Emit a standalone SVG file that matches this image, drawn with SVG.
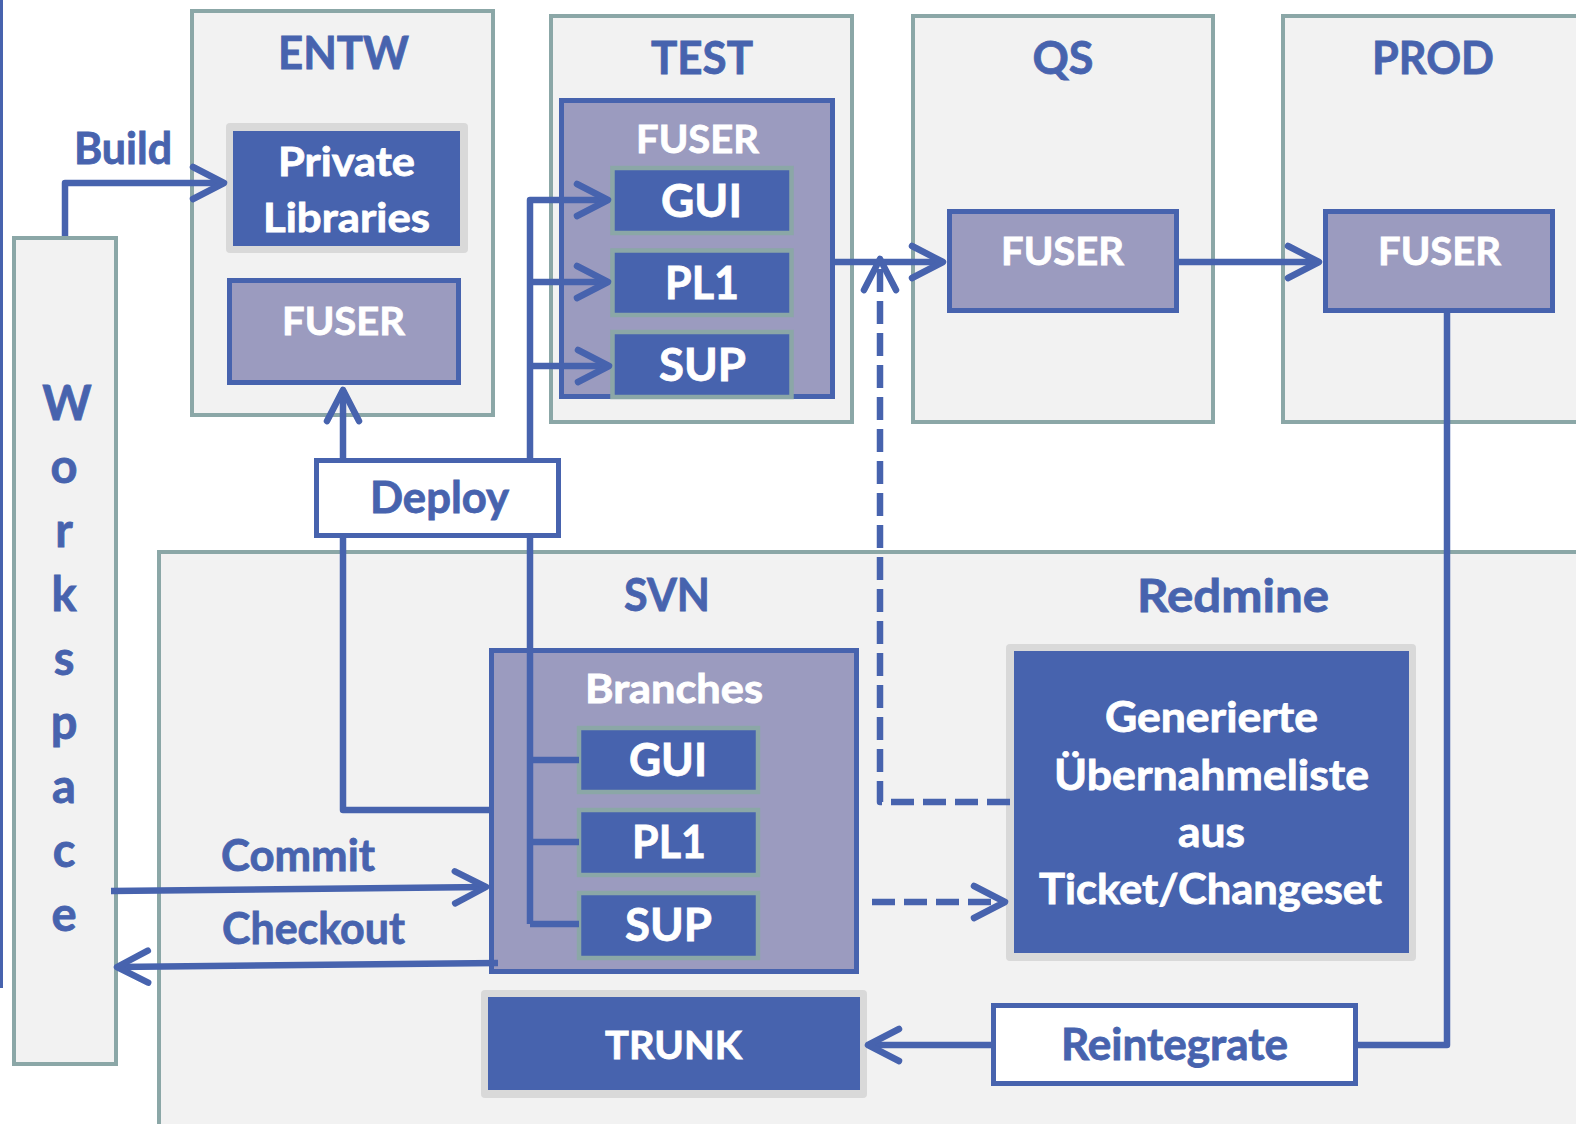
<svg xmlns="http://www.w3.org/2000/svg" width="1576" height="1124" viewBox="0 0 1576 1124">
<style>
  text { font-family: Lato, "Open Sans", "Liberation Sans", sans-serif; font-weight: 700; text-anchor: middle; stroke-width: 0.8; }
  .panel { fill: #f2f2f2; stroke: #8ba7a7; stroke-width: 4; }
  .fuser { fill: #9b9bbf; stroke: #4763ae; stroke-width: 5; }
  .label { fill: #ffffff; stroke: #4763ae; stroke-width: 5; }
  .frame { fill: #d9d9d9; }
  .solid { fill: #4763ae; }
  .mod { fill: #4763ae; stroke: #8ba7a7; stroke-width: 4.5; }
  .title { fill: #4763ae; stroke: #4763ae; font-size: 46px; }
  .btxt { fill: #4763ae; stroke: #4763ae; font-size: 43px; }
  .wtxt { fill: #ffffff; stroke: #ffffff; }
  .conn { fill: none; stroke: #4763ae; stroke-width: 6.5; stroke-linejoin: round; }
  .dash { stroke-dasharray: 23 9; }
</style>
<defs>
  <marker id="arr" markerUnits="userSpaceOnUse" viewBox="-40 -22 46 44" markerWidth="46" markerHeight="44" refX="0" refY="0" orient="auto" overflow="visible">
    <path d="M-31,-16 L0,0 L-31,16" fill="none" stroke="#4763ae" stroke-width="6.5" stroke-linecap="round" stroke-linejoin="round" stroke-dasharray="none"/>
  </marker>
</defs>

<rect x="0" y="0" width="3" height="988" fill="#4763ae"/>

<g id="workspace">
  <rect class="panel" x="14" y="238" width="102" height="826"/>
  <g class="title" style="font-size:47px">
    <text x="67" y="420">W</text>
    <text x="64" y="483">o</text>
    <text x="64" y="547">r</text>
    <text x="64" y="611">k</text>
    <text x="64" y="675">s</text>
    <text x="64" y="739">p</text>
    <text x="64" y="803">a</text>
    <text x="64" y="867">c</text>
    <text x="64" y="931">e</text>
  </g>
</g>

<g id="entw">
  <rect class="panel" x="192" y="11" width="301" height="404"/>
  <text class="title" x="343.5" y="69" textLength="131" lengthAdjust="spacingAndGlyphs">ENTW</text>
</g>
<g id="test">
  <rect class="panel" x="551" y="16" width="301" height="406"/>
  <text class="title" x="702" y="74" textLength="102" lengthAdjust="spacingAndGlyphs">TEST</text>
</g>
<g id="qs">
  <rect class="panel" x="913" y="16" width="300" height="406"/>
  <text class="title" x="1063" y="74" textLength="61" lengthAdjust="spacingAndGlyphs">QS</text>
</g>
<g id="prod">
  <rect class="panel" x="1283" y="16" width="400" height="406"/>
  <text class="title" x="1433" y="74" textLength="122" lengthAdjust="spacingAndGlyphs">PROD</text>
</g>
<g id="svn">
  <rect class="panel" x="159" y="552" width="1500" height="700"/>
  <text class="title" x="667" y="611" textLength="86" lengthAdjust="spacingAndGlyphs">SVN</text>
  <text class="title" x="1233" y="612" textLength="192" lengthAdjust="spacingAndGlyphs">Redmine</text>
</g>

<g id="private-libraries">
  <rect class="frame" x="226" y="123" width="242" height="130" rx="4"/>
  <rect class="solid" x="233" y="131" width="227" height="115"/>
  <text class="wtxt" x="346.5" y="176" font-size="40" textLength="137" lengthAdjust="spacingAndGlyphs">Private</text>
  <text class="wtxt" x="346.5" y="232" font-size="40" textLength="167" lengthAdjust="spacingAndGlyphs">Libraries</text>
</g>
<g id="entw-fuser">
  <rect class="fuser" x="229.5" y="280.5" width="229" height="102"/>
  <text class="wtxt" x="343.5" y="335" font-size="39" textLength="123" lengthAdjust="spacingAndGlyphs">FUSER</text>
</g>

<g id="test-fuser">
  <rect class="fuser" x="561.5" y="100.5" width="271" height="296"/>
  <text class="wtxt" x="697.5" y="153" font-size="39" textLength="123" lengthAdjust="spacingAndGlyphs">FUSER</text>
</g>
<g id="test-gui">
  <rect class="mod" x="612.5" y="168" width="179" height="65"/>
  <text class="wtxt" x="701.5" y="217" font-size="46" textLength="81" lengthAdjust="spacingAndGlyphs">GUI</text>
</g>
<g id="test-pl1">
  <rect class="mod" x="612.5" y="250.5" width="179" height="64.5"/>
  <text class="wtxt" x="702" y="299" font-size="46" textLength="74" lengthAdjust="spacingAndGlyphs">PL1</text>
</g>
<g id="test-sup">
  <rect class="mod" x="612.5" y="332" width="179" height="65"/>
  <text class="wtxt" x="702.5" y="381" font-size="46" textLength="87" lengthAdjust="spacingAndGlyphs">SUP</text>
</g>

<g id="qs-fuser">
  <rect class="fuser" x="949.5" y="211.5" width="227" height="99"/>
  <text class="wtxt" x="1062.5" y="265" font-size="39" textLength="123" lengthAdjust="spacingAndGlyphs">FUSER</text>
</g>
<g id="prod-fuser">
  <rect class="fuser" x="1325.5" y="211.5" width="227" height="99"/>
  <text class="wtxt" x="1439.5" y="265" font-size="39" textLength="123" lengthAdjust="spacingAndGlyphs">FUSER</text>
</g>

<g id="branches">
  <rect class="fuser" x="491.5" y="650.5" width="365" height="321"/>
  <text class="wtxt" x="674" y="703" font-size="40" textLength="178" lengthAdjust="spacingAndGlyphs">Branches</text>
</g>
<g id="branch-gui">
  <rect class="mod" x="579" y="728" width="179" height="64"/>
  <text class="wtxt" x="668" y="776" font-size="46" textLength="78" lengthAdjust="spacingAndGlyphs">GUI</text>
</g>
<g id="branch-pl1">
  <rect class="mod" x="579" y="810" width="179" height="65"/>
  <text class="wtxt" x="669" y="858" font-size="46" textLength="74" lengthAdjust="spacingAndGlyphs">PL1</text>
</g>
<g id="branch-sup">
  <rect class="mod" x="579" y="893" width="179" height="65"/>
  <text class="wtxt" x="668.5" y="941" font-size="46" textLength="87" lengthAdjust="spacingAndGlyphs">SUP</text>
</g>

<g id="trunk">
  <rect class="frame" x="481" y="990" width="386" height="108" rx="4"/>
  <rect class="solid" x="488" y="997" width="372" height="93"/>
  <text class="wtxt" x="673.5" y="1059" font-size="39" textLength="137" lengthAdjust="spacingAndGlyphs">TRUNK</text>
</g>

<g id="redmine-list">
  <rect class="frame" x="1006" y="644" width="410" height="317" rx="4"/>
  <rect class="solid" x="1014" y="651" width="395" height="302"/>
  <text class="wtxt" x="1211.5" y="732" font-size="42" textLength="213" lengthAdjust="spacingAndGlyphs">Generierte</text>
  <text class="wtxt" x="1211.5" y="790" font-size="42" textLength="315" lengthAdjust="spacingAndGlyphs">Übernahmeliste</text>
  <text class="wtxt" x="1211.5" y="847" font-size="42" textLength="67" lengthAdjust="spacingAndGlyphs">aus</text>
  <text class="wtxt" x="1210.5" y="904" font-size="42" textLength="343" lengthAdjust="spacingAndGlyphs">Ticket/Changeset</text>
</g>

<g id="connectors">
  <path class="conn" d="M65,236 V183 H224" marker-end="url(#arr)"/>
  <path class="conn" d="M343,460 V390" marker-end="url(#arr)"/>
  <path class="conn" d="M343,536 V810 H491"/>
  <path class="conn" d="M530,924 V200 H608" marker-end="url(#arr)"/>
  <path class="conn" d="M530,282 H608" marker-end="url(#arr)"/>
  <path class="conn" d="M530,366 H609" marker-end="url(#arr)"/>
  <path class="conn" d="M530,760 H579 M530,842 H579 M530,924 H579"/>
  <path class="conn" d="M111,891 L486,887" marker-end="url(#arr)"/>
  <path class="conn" d="M498,963 L117,967" marker-end="url(#arr)"/>
  <path class="conn" d="M835,262 H943" marker-end="url(#arr)"/>
  <path class="conn dash" d="M1010,802 H880 V259" marker-end="url(#arr)"/>
  <path class="conn dash" d="M872,902 H1005" marker-end="url(#arr)"/>
  <path class="conn" d="M1179,262 H1319" marker-end="url(#arr)"/>
  <path class="conn" d="M1447,313 V1045 H868" marker-end="url(#arr)"/>
  <text class="btxt" x="123" y="164" textLength="98" lengthAdjust="spacingAndGlyphs">Build</text>
  <text class="btxt" x="298" y="871" textLength="154" lengthAdjust="spacingAndGlyphs">Commit</text>
  <text class="btxt" x="313.5" y="944" textLength="183" lengthAdjust="spacingAndGlyphs">Checkout</text>
</g>

<g id="deploy">
  <rect class="label" x="316.5" y="460.5" width="242" height="75"/>
  <text class="btxt" x="439.5" y="513" textLength="139" lengthAdjust="spacingAndGlyphs">Deploy</text>
</g>
<g id="reintegrate">
  <rect class="label" x="993.5" y="1005.5" width="362" height="78"/>
  <text class="btxt" x="1174.5" y="1060" textLength="227" lengthAdjust="spacingAndGlyphs">Reintegrate</text>
</g>
</svg>
